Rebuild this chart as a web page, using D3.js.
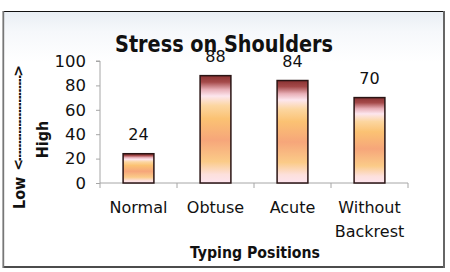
<!DOCTYPE html>
<html>
<head>
<meta charset="utf-8">
<script src="https://cdn.jsdelivr.net/npm/d3@7"></script>
<style>
  html, body { margin: 0; padding: 0; background: #fff; }
  svg { display: block; }
</style>
</head>
<body>
<svg id="chart" width="450" height="272"></svg>
<script>
const categories = ["Normal", "Obtuse", "Acute", "Without Backrest"];
const categoryLines = [["Normal"], ["Obtuse"], ["Acute"], ["Without", "Backrest"]];
const values = [24, 88, 84, 70];
const yTicks = [0, 20, 40, 60, 80, 100];
const title = "Stress on Shoulders";
const xTitle = "Typing Positions";
const yTitleLow = "Low";
const yTitleHigh = "High";

const svg = d3.select("#chart");
const defs = svg.append("defs");

// frame background gradient
const bg = defs.append("linearGradient").attr("id", "bg").attr("x1", 0).attr("y1", 0).attr("x2", 0).attr("y2", 1);
bg.append("stop").attr("offset", 0).attr("stop-color", "#e9eef4");
bg.append("stop").attr("offset", 0.08).attr("stop-color", "#f6f8fb");
bg.append("stop").attr("offset", 0.2).attr("stop-color", "#ffffff");
bg.append("stop").attr("offset", 1).attr("stop-color", "#ffffff");

// bar gradient
const g = defs.append("linearGradient").attr("id", "barGrad").attr("x1", 0).attr("y1", 0).attr("x2", 0).attr("y2", 1);
[
  [0, "#8a3232"], [0.06, "#a54a4a"], [0.13, "#e8b0b8"], [0.19, "#fde6ee"],
  [0.28, "#fcd6a0"], [0.4, "#fbc273"], [0.6, "#f6a67a"], [0.8, "#fbcb88"],
  [0.92, "#fde0dc"], [1, "#fde4ee"]
].forEach(([o, c]) => g.append("stop").attr("offset", o).attr("stop-color", c));

svg.append("rect").attr("x", 3.5).attr("y", 11.5).attr("width", 440.5).attr("height", 255.5)
  .attr("fill", "url(#bg)");
svg.append("line").attr("x1", 3).attr("x2", 445).attr("y1", 11.5).attr("y2", 11.5).attr("stroke", "#111").attr("stroke-width", 1.2);
svg.append("line").attr("x1", 3).attr("x2", 445).attr("y1", 267).attr("y2", 267).attr("stroke", "#111").attr("stroke-width", 1.6);
svg.append("line").attr("x1", 3.3).attr("x2", 3.3).attr("y1", 11).attr("y2", 268).attr("stroke", "#777").attr("stroke-width", 1.8);
svg.append("line").attr("x1", 444).attr("x2", 444).attr("y1", 11).attr("y2", 268).attr("stroke", "#666").attr("stroke-width", 2);

const pLeft = 100, pRight = 408, pTop = 61, pBottom = 183;
const y = d3.scaleLinear().domain([0, 100]).range([pBottom, pTop]);
const xCat = d3.scaleBand().domain(categories).range([pLeft, pRight]).padding(0);
const xBar = d3.scaleBand().domain(categories).range([pLeft, pRight]).paddingInner(0.6).paddingOuter(0.3);

const axisColor = "#a6a6a6";
const font = "'DejaVu Sans', sans-serif";
const fontC = "'DejaVu Sans Condensed', 'DejaVu Sans', sans-serif";

// y axis
const yAxis = svg.append("g").attr("transform", `translate(${pLeft},0)`)
  .call(d3.axisLeft(y).tickValues(yTicks).tickSize(4).tickPadding(10));
yAxis.select(".domain").attr("stroke", axisColor).attr("d", `M-4,${pTop}H0V${pBottom}`);
yAxis.selectAll(".tick line").attr("stroke", axisColor);
yAxis.selectAll(".tick text").attr("font-family", font).attr("font-size", 16.5).attr("fill", "#111");

// x axis
const xAxisG = svg.append("g").attr("transform", `translate(0,${pBottom})`);
xAxisG.append("line").attr("x1", pLeft).attr("x2", pRight).attr("y1", 0).attr("y2", 0).attr("stroke", axisColor);
const bounds = categories.map(c => xCat(c)).concat([pRight]);
xAxisG.selectAll("line.tk").data(bounds).join("line").attr("class", "tk")
  .attr("x1", d => d).attr("x2", d => d).attr("y1", 0).attr("y2", 5).attr("stroke", axisColor);

const xl = svg.append("g");
xl.selectAll("text").data(categories).join("text")
  .attr("x", d => xCat(d) + xCat.bandwidth() / 2)
  .attr("y", 213)
  .attr("text-anchor", "middle")
  .attr("font-family", font).attr("font-size", 16).attr("fill", "#111")
  .each(function(d, i) {
    const t = d3.select(this);
    categoryLines[i].forEach((ln, j) => {
      t.append("tspan").attr("x", xCat(d) + xCat.bandwidth() / 2).attr("dy", j === 0 ? 0 : 23.5).text(ln);
    });
  });

// bars
svg.append("g").selectAll("rect").data(values).join("rect")
  .attr("x", (d, i) => xBar(categories[i]))
  .attr("width", xBar.bandwidth())
  .attr("y", d => y(d))
  .attr("height", d => y(0) - y(d))
  .attr("fill", "url(#barGrad)")
  .attr("stroke", "#2a1414").attr("stroke-width", 1.5);

// value labels
svg.append("g").selectAll("text").data(values).join("text")
  .attr("x", (d, i) => xBar(categories[i]) + xBar.bandwidth() / 2)
  .attr("y", d => y(d) - 14)
  .attr("text-anchor", "middle")
  .attr("font-family", font).attr("font-size", 16).attr("fill", "#111")
  .text(d => d);

// title
svg.append("text").attr("x", 224).attr("y", 51.5).attr("text-anchor", "middle")
  .attr("font-family", fontC).attr("font-weight", "bold").attr("font-size", 23)
  .attr("textLength", 218).attr("lengthAdjust", "spacingAndGlyphs")
  .attr("fill", "#111").text(title);

// x title
svg.append("text").attr("x", 255).attr("y", 258).attr("text-anchor", "middle")
  .attr("font-family", fontC).attr("font-weight", "bold").attr("font-size", 16)
  .attr("textLength", 130).attr("lengthAdjust", "spacingAndGlyphs")
  .attr("fill", "#111").text(xTitle);

// y title (rotated)
const yt = svg.append("g").attr("transform", "translate(25,0) rotate(-90)");
yt.append("text").attr("x", -209).attr("y", 0)
  .attr("font-family", fontC).attr("font-weight", "bold").attr("font-size", 16)
  .attr("fill", "#111").text(yTitleLow);
const ya = svg.append("g").attr("transform", "translate(23,0) rotate(-90)");
ya.append("text").attr("x", -165).attr("y", 0).attr("text-anchor", "middle")
  .attr("font-family", font).attr("font-weight", "bold").attr("font-size", 14)
  .attr("fill", "#111").text("<");
ya.append("text").attr("x", -71).attr("y", 0).attr("text-anchor", "middle")
  .attr("font-family", font).attr("font-weight", "bold").attr("font-size", 14)
  .attr("fill", "#111").text(">");
ya.append("text").attr("x", -161).attr("y", 0.5)
  .attr("font-family", font).attr("font-weight", "bold").attr("font-size", 14)
  .attr("textLength", 86).attr("lengthAdjust", "spacingAndGlyphs")
  .attr("fill", "#111").text("-".repeat(25));
const yt2 = svg.append("g").attr("transform", "translate(48,0) rotate(-90)");
yt2.append("text").attr("x", -139.5).attr("y", 0).attr("text-anchor", "middle")
  .attr("font-family", fontC).attr("font-weight", "bold").attr("font-size", 16)
  .attr("fill", "#111").text(yTitleHigh);
</script>
</body>
</html>
